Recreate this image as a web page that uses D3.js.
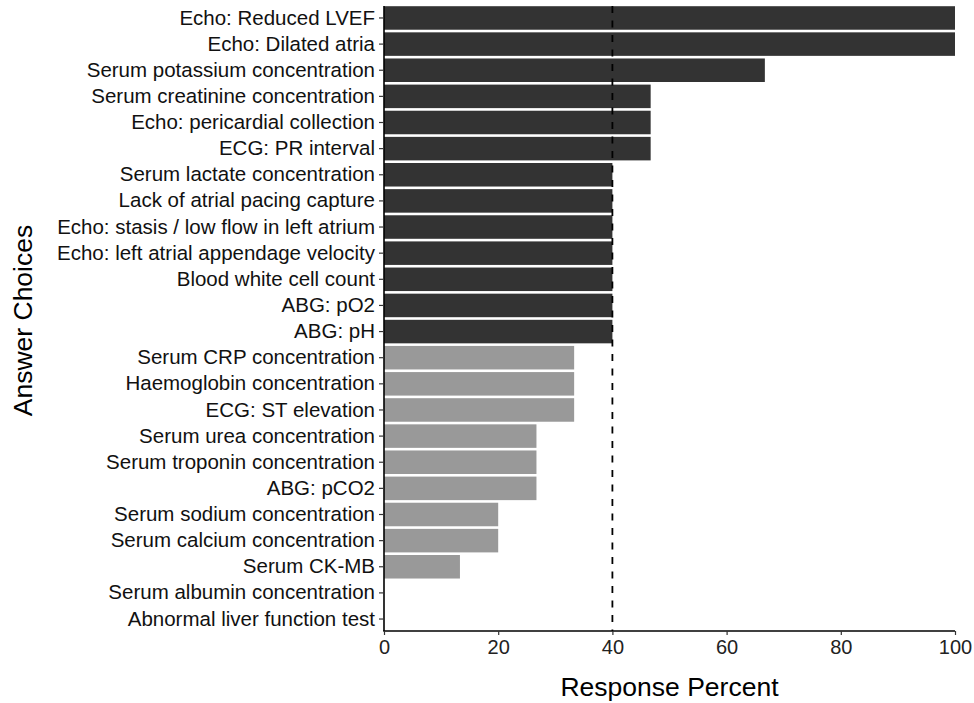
<!DOCTYPE html>
<html><head><meta charset="utf-8">
<script src="https://cdn.jsdelivr.net/npm/d3@7"></script>
<style>body{margin:0;background:#fff;} text{font-family:"Liberation Sans",Arial,sans-serif;}</style>
</head><body>
<svg id="c" width="974" height="703"></svg>
<script>
const categories = ["Echo: Reduced LVEF","Echo: Dilated atria","Serum potassium concentration","Serum creatinine concentration","Echo: pericardial collection","ECG: PR interval","Serum lactate concentration","Lack of atrial pacing capture","Echo: stasis / low flow in left atrium","Echo: left atrial appendage velocity","Blood white cell count","ABG: pO2","ABG: pH","Serum CRP concentration","Haemoglobin concentration","ECG: ST elevation","Serum urea concentration","Serum troponin concentration","ABG: pCO2","Serum sodium concentration","Serum calcium concentration","Serum CK-MB","Serum albumin concentration","Abnormal liver function test"];
const values = [100,100,66.7,46.7,46.7,46.7,40,40,40,40,40,40,40,33.3,33.3,33.3,26.7,26.7,26.7,20,20,13.3,0,0];
const xTicks = [0,20,40,60,80,100];
const threshold = 40;

(function(){
const svg = d3.select("#c");
const pL = 384, pR = 955, pT = 6, pB = 631;
const x = d3.scaleLinear().domain([0,100]).range([pL,pR]);
const y = d3.scaleBand().domain(categories).range([4.9,632.1]).paddingInner(0.1).paddingOuter(0.05);
const ff = "'Liberation Sans',Arial,sans-serif";

svg.append("g").selectAll("rect").data(categories).join("rect")
  .attr("x", x(0)).attr("y", d => y(d))
  .attr("width", (d,i) => x(values[i]) - x(0))
  .attr("height", y.bandwidth())
  .attr("fill", (d,i) => values[i] >= threshold ? "#333333" : "#999999");

svg.append("line").attr("x1", x(threshold)).attr("x2", x(threshold))
  .attr("y1", pT).attr("y2", pB)
  .attr("stroke","#000").attr("stroke-width",1.8).attr("stroke-dasharray","7,7.5");

const xa = svg.append("g").attr("transform",`translate(0,${pB})`)
  .call(d3.axisBottom(x).tickValues(xTicks).tickSize(4).tickPadding(5).tickSizeOuter(0));
xa.select(".domain").attr("stroke","#000").attr("stroke-width",1.6).attr("d",`M${pL-0.8},0H${pR}`);
xa.selectAll(".tick line").attr("stroke","#333").attr("stroke-width",1.2);
xa.selectAll("text").attr("font-size",20).attr("fill","#222").style("font-family",ff);

const ya = svg.append("g").attr("transform",`translate(${pL},0)`)
  .call(d3.axisLeft(y).tickSize(5).tickPadding(4).tickSizeOuter(0));
ya.select(".domain").attr("stroke","#000").attr("stroke-width",1.6).attr("d",`M0,${pT}V${pB}`);
ya.selectAll(".tick line").attr("stroke","#333").attr("stroke-width",1.2);
ya.selectAll("text").attr("font-size",20.5).attr("fill","#111").style("font-family",ff);

svg.append("text").attr("x",(pL+pR)/2).attr("y",696).attr("text-anchor","middle")
  .attr("font-size",26.5).attr("fill","#000").style("font-family",ff).text("Response Percent");
svg.append("text").attr("transform",`translate(31.5,320.5) rotate(-90)`).attr("text-anchor","middle")
  .attr("font-size",26.5).attr("fill","#000").style("font-family",ff).text("Answer Choices");
})();
</script>
</body></html>
